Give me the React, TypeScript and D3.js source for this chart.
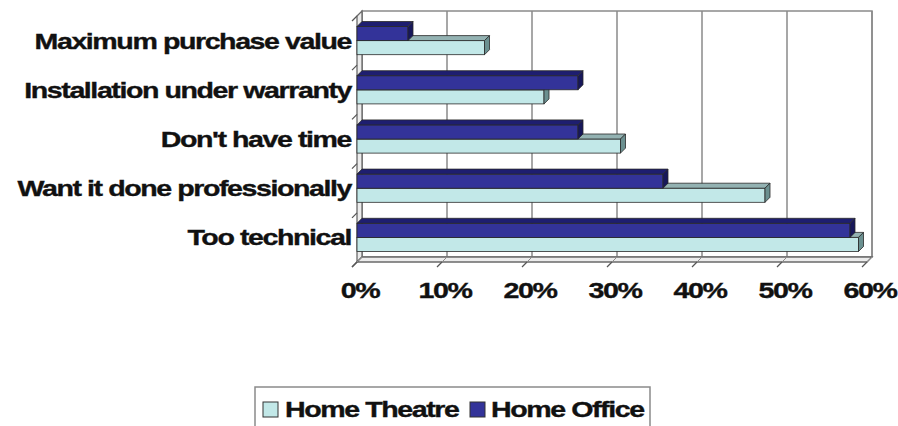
import React from "react";
import * as d3 from "d3";

const categories = [
  "Maximum purchase value",
  "Installation under warranty",
  "Don't have time",
  "Want it done professionally",
  "Too technical",
];
const seriesNames = ["Home Office", "Home Theatre"];
const homeTheatre = [15, 22, 31, 48, 59];
const homeOffice = [6, 26, 26, 36, 58];
const xTicks = [0, 10, 20, 30, 40, 50, 60];

const W = 898;
const H = 426;
const DX = 5;
const DY = -5;
const FONT = "'Liberation Sans', Arial, Helvetica, sans-serif";
const SX = 1.3;

const colors: Record<string, { front: string; top: string; side: string }> = {
  "Home Theatre": { front: "#c2e8e8", top: "#93b2b2", side: "#6b9090" },
  "Home Office": { front: "#333399", top: "#1e1e70", side: "#17175a" },
};

function Label({ x, y, anchor, children, size = 22 }: any) {
  return (
    <g transform={`translate(${x},${y}) scale(${SX},1)`}>
      <text
        x={0}
        y={0}
        dy="0.36em"
        textAnchor={anchor}
        fontFamily={FONT}
        fontWeight="bold"
        fontSize={size}
        letterSpacing={-1.1}
        fill="#111"
        stroke="#111"
        strokeWidth={0.35}
      >
        {children}
      </text>
    </g>
  );
}

function Bar3D({ x0, x1, y0, y1, c }: any) {
  const stroke = "#2a2a2a";
  return (
    <g>
      <rect x={x0} y={y0} width={x1 - x0} height={y1 - y0} fill={c.front} stroke={stroke} strokeWidth={0.8} />
      <polygon
        points={`${x0},${y0} ${x0 + DX},${y0 + DY} ${x1 + DX},${y0 + DY} ${x1},${y0}`}
        fill={c.top}
        stroke={stroke}
        strokeWidth={0.8}
      />
      <polygon
        points={`${x1},${y0} ${x1 + DX},${y0 + DY} ${x1 + DX},${y1 + DY} ${x1},${y1}`}
        fill={c.side}
        stroke={stroke}
        strokeWidth={0.8}
      />
    </g>
  );
}

export default function App() {
  const x = d3.scaleLinear().domain([0, 60]).range([357, 867]);
  const y = d3.scaleBand<string>().domain(categories).range([16, 262]);
  const bw = y.bandwidth();
  const inner = d3.scaleBand<string>().domain(seriesNames).range([10.5, bw - 10.5]);

  const front = { top: 16, bottom: 262, left: 357, right: 867 };
  const back = { top: front.top + DY, bottom: front.bottom + DY, left: front.left + DX, right: front.right + DX };

  const bars: any[] = [];
  for (let i = categories.length - 1; i >= 0; i--) {
    const cat = categories[i];
    const base = y(cat)!;
    const ht = homeTheatre[i];
    const ho = homeOffice[i];
    const yt = base + inner("Home Theatre")!;
    const yo = base + inner("Home Office")!;
    bars.push(
      <Bar3D key={cat + "t"} x0={x(0)} x1={x(ht)} y0={yt} y1={yt + inner.bandwidth()} c={colors["Home Theatre"]} />
    );
    bars.push(
      <Bar3D key={cat + "o"} x0={x(0)} x1={x(ho)} y0={yo} y1={yo + inner.bandwidth()} c={colors["Home Office"]} />
    );
  }

  const catBounds = [...categories.map((c) => y(c)!), front.bottom];

  return (
    <div style={{ position: "absolute", left: 0, top: 0 }}>
      <svg width={W} height={H} style={{ display: "block", background: "#fff" }}>
        <rect x={back.left} y={back.top} width={back.right - back.left} height={back.bottom - back.top} fill="#fff" stroke="#8a8a8a" strokeWidth={1.5} />
        {xTicks.map((t) => (
          <line key={"g" + t} x1={x(t) + DX} x2={x(t) + DX} y1={back.top} y2={back.bottom} stroke="#8a8a8a" strokeWidth={1.5} />
        ))}
        <polygon
          points={`${front.left},${front.top} ${back.left},${back.top} ${back.left},${back.bottom} ${front.left},${front.bottom}`}
          fill="#ececec"
          stroke="#6a6a6a"
          strokeWidth={1.3}
        />
        <polygon
          points={`${front.left},${front.bottom} ${front.right},${front.bottom} ${back.right},${back.bottom} ${back.left},${back.bottom}`}
          fill="#ececec"
          stroke="#6a6a6a"
          strokeWidth={1.3}
        />
        {xTicks.map((t) => (
          <line key={"f" + t} x1={x(t)} x2={x(t) + DX} y1={front.bottom} y2={back.bottom} stroke="#8a8a8a" strokeWidth={1} />
        ))}
        {xTicks.map((t) => (
          <line key={"t" + t} x1={x(t)} x2={x(t) - DX} y1={front.bottom} y2={front.bottom - DY} stroke="#555" strokeWidth={1.2} />
        ))}
        {catBounds.map((b, i) => (
          <line key={"yt" + i} x1={front.left} x2={front.left - DX} y1={b} y2={b - DY} stroke="#555" strokeWidth={1.2} />
        ))}
        {bars}
        {categories.map((c) => (
          <Label key={c} x={351} y={y(c)! + bw / 2} anchor="end">
            {c}
          </Label>
        ))}
        {xTicks.map((t) => (
          <Label key={"l" + t} x={x(t) + 3} y={290} anchor="middle">
            {`${t}%`}
          </Label>
        ))}
        <rect x={255} y={387} width={395} height={48} fill="#fff" stroke="#8a8a8a" strokeWidth={1.5} />
        <rect x={263} y={402} width={15} height={15} fill={colors["Home Theatre"].front} stroke="#333" strokeWidth={1} />
        <Label x={285} y={409} anchor="start">
          Home Theatre
        </Label>
        <rect x={470} y={402} width={15} height={15} fill={colors["Home Office"].front} stroke="#333" strokeWidth={1} />
        <Label x={491} y={409} anchor="start">
          Home Office
        </Label>
      </svg>
    </div>
  );
}
